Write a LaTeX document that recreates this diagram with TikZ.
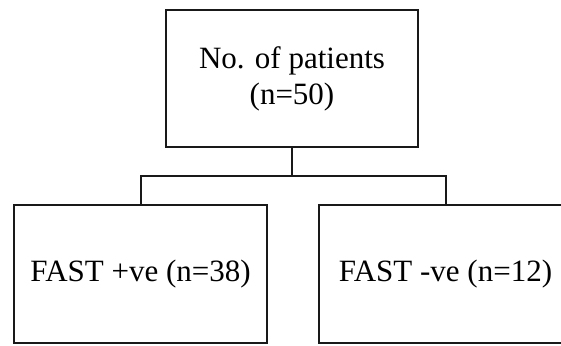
\documentclass[tikz,border=0pt]{standalone}
\usepackage{fontspec}
\setmainfont{Liberation Serif}
\begin{document}
\begin{tikzpicture}[x=1pt,y=-1pt,
  box/.style={draw=black!90, line width=2pt, rectangle, inner sep=0pt,
    minimum width=253pt, minimum height=137pt, align=center,
    font=\fontsize{31}{36}\selectfont},
  link/.style={draw=black!90, line width=2pt}]
\useasboundingbox (0,0) rectangle (561,345);
\clip (0,0) rectangle (561,345);
\fill[white] (0,0) rectangle (561,345);
\node[box, minimum width=252pt] (top) at (292,78.5) {No. of patients\\(n=50)};
\node[box, minimum height=138pt] (left) at (140.5,274) {FAST +ve (n=38)};
\node[box, minimum height=138pt] (right) at (445.5,274) {FAST -ve (n=12)};
\coordinate (split) at (292,176);
\draw[link] (top.south) -- (split);
\draw[link] (split) -| (left.north);
\draw[link] (split) -| (right.north);
\end{tikzpicture}
\end{document}
